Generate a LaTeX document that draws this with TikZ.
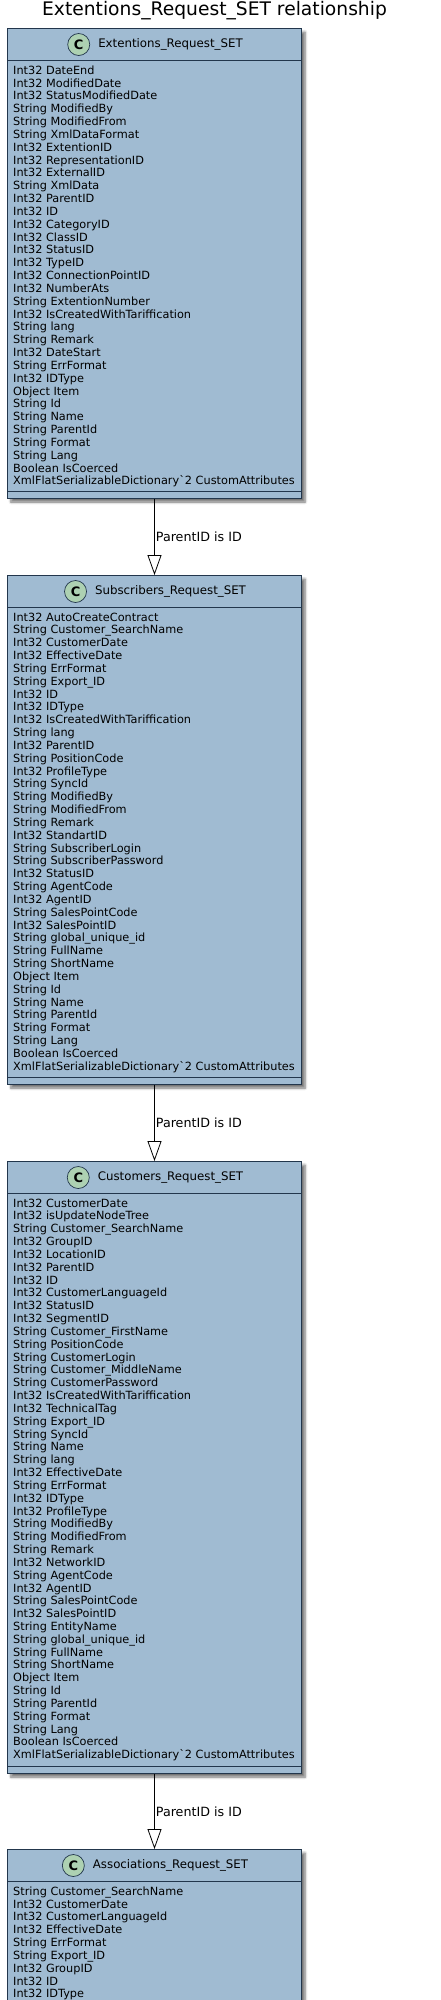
\documentclass[tikz,border=0pt]{standalone}
\usepackage{fontspec}
\newfontfamily\umlfont{DejaVu Sans}
\usetikzlibrary{positioning, shadows.blur, arrows.meta}
\definecolor{classfill}{HTML}{A0BBD2}
\definecolor{classline}{HTML}{22364C}
\definecolor{spotfill}{HTML}{ADD1B2}
\tikzset{
  classbox/.style = {draw=classline, line width=1pt, fill=classfill, minimum width=294pt, inner sep=0pt, anchor=north,
    blur shadow={shadow xshift=3.5pt, shadow yshift=-3.5pt, shadow blur radius=2.5pt, shadow blur steps=6, shadow opacity=55}},
  classname/.style = {inner sep=0pt, font=\umlfont\fontsize{11.8}{14}\selectfont},
  classspot/.style = {circle, draw=classline, line width=.7pt, fill=spotfill, minimum size=22pt, inner sep=0pt, font=\umlfont\bfseries\fontsize{13}{13}\selectfont},
  attrlist/.style = {anchor=north west, inner sep=0pt, align=left, font=\umlfont\fontsize{11.3}{12.83}\selectfont},
  sepline/.style = {classline, line width=1pt},
  inherit/.style = {line width=.8pt, -{Triangle[open, length=20pt, width=14pt]}},
  edgelabel/.style = {right, inner xsep=1pt, inner ysep=0pt, font=\umlfont\fontsize{12.7}{14}\selectfont}
}
\begin{document}
\begin{tikzpicture}[x=1pt, y=-1pt]
\useasboundingbox (0,0) rectangle (440,2000);
\clip (0,0) rectangle (440,2000);

\node[inner sep=0pt, font=\umlfont\fontsize{18.7}{20}\selectfont] (title) at (214.5,11) {Extentions\_Request\_SET relationship};

\node[classbox, minimum height=470pt] (extentions) at (154.5,28) {};
\node[classname] (extentionsname) at (170.5,44.5) {Extentions\_Request\_SET};
\node[classspot, left=8pt of extentionsname] (extentionsspot) {C};
\draw[sepline] ([yshift=-32pt]extentions.north west) -- ([yshift=-32pt]extentions.north east);
\draw[sepline] ([yshift=8pt]extentions.south west) -- ([yshift=8pt]extentions.south east);
\node[attrlist] (extentionsattrs) at (13,65.5) {Int32 DateEnd\\
Int32 ModifiedDate\\
Int32 StatusModifiedDate\\
String ModifiedBy\\
String ModifiedFrom\\
String XmlDataFormat\\
Int32 ExtentionID\\
Int32 RepresentationID\\
Int32 ExternalID\\
String XmlData\\
Int32 ParentID\\
Int32 ID\\
Int32 CategoryID\\
Int32 ClassID\\
Int32 StatusID\\
Int32 TypeID\\
Int32 ConnectionPointID\\
Int32 NumberAts\\
String ExtentionNumber\\
Int32 IsCreatedWithTariffication\\
String lang\\
String Remark\\
Int32 DateStart\\
String ErrFormat\\
Int32 IDType\\
Object Item\\
String Id\\
String Name\\
String ParentId\\
String Format\\
String Lang\\
Boolean IsCoerced\\
XmlFlatSerializableDictionary`2 CustomAttributes};

\node[classbox, minimum height=509pt] (subscribers) at (154.5,575) {};
\node[classname] (subscribersname) at (170.5,591.5) {Subscribers\_Request\_SET};
\node[classspot, left=8pt of subscribersname] (subscribersspot) {C};
\draw[sepline] ([yshift=-32pt]subscribers.north west) -- ([yshift=-32pt]subscribers.north east);
\draw[sepline] ([yshift=8pt]subscribers.south west) -- ([yshift=8pt]subscribers.south east);
\node[attrlist] (subscribersattrs) at (13,612.5) {Int32 AutoCreateContract\\
String Customer\_SearchName\\
Int32 CustomerDate\\
Int32 EffectiveDate\\
String ErrFormat\\
String Export\_ID\\
Int32 ID\\
Int32 IDType\\
Int32 IsCreatedWithTariffication\\
String lang\\
Int32 ParentID\\
String PositionCode\\
Int32 ProfileType\\
String SyncId\\
String ModifiedBy\\
String ModifiedFrom\\
String Remark\\
Int32 StandartID\\
String SubscriberLogin\\
String SubscriberPassword\\
Int32 StatusID\\
String AgentCode\\
Int32 AgentID\\
String SalesPointCode\\
Int32 SalesPointID\\
String global\_unique\_id\\
String FullName\\
String ShortName\\
Object Item\\
String Id\\
String Name\\
String ParentId\\
String Format\\
String Lang\\
Boolean IsCoerced\\
XmlFlatSerializableDictionary`2 CustomAttributes};

\node[classbox, minimum height=612pt] (customers) at (154.5,1161) {};
\node[classname] (customersname) at (170.5,1177.5) {Customers\_Request\_SET};
\node[classspot, left=8pt of customersname] (customersspot) {C};
\draw[sepline] ([yshift=-32pt]customers.north west) -- ([yshift=-32pt]customers.north east);
\draw[sepline] ([yshift=8pt]customers.south west) -- ([yshift=8pt]customers.south east);
\node[attrlist] (customersattrs) at (13,1198.5) {Int32 CustomerDate\\
Int32 isUpdateNodeTree\\
String Customer\_SearchName\\
Int32 GroupID\\
Int32 LocationID\\
Int32 ParentID\\
Int32 ID\\
Int32 CustomerLanguageId\\
Int32 StatusID\\
Int32 SegmentID\\
String Customer\_FirstName\\
String PositionCode\\
String CustomerLogin\\
String Customer\_MiddleName\\
String CustomerPassword\\
Int32 IsCreatedWithTariffication\\
Int32 TechnicalTag\\
String Export\_ID\\
String SyncId\\
String Name\\
String lang\\
Int32 EffectiveDate\\
String ErrFormat\\
Int32 IDType\\
Int32 ProfileType\\
String ModifiedBy\\
String ModifiedFrom\\
String Remark\\
Int32 NetworkID\\
String AgentCode\\
Int32 AgentID\\
String SalesPointCode\\
Int32 SalesPointID\\
String EntityName\\
String global\_unique\_id\\
String FullName\\
String ShortName\\
Object Item\\
String Id\\
String ParentId\\
String Format\\
String Lang\\
Boolean IsCoerced\\
XmlFlatSerializableDictionary`2 CustomAttributes};

\node[classbox, minimum height=200pt] (associations) at (154.5,1849) {};
\node[classname] (associationsname) at (170.5,1865.5) {Associations\_Request\_SET};
\node[classspot, left=8pt of associationsname] (associationsspot) {C};
\draw[sepline] ([yshift=-32pt]associations.north west) -- ([yshift=-32pt]associations.north east);
\node[attrlist] (associationsattrs) at (13,1886.5) {String Customer\_SearchName\\
Int32 CustomerDate\\
Int32 CustomerLanguageId\\
Int32 EffectiveDate\\
String ErrFormat\\
String Export\_ID\\
Int32 GroupID\\
Int32 ID\\
Int32 IDType};

\draw[inherit] (extentions.south) -- node[edgelabel] (extentionslabel) {ParentID is ID} (subscribers.north);
\draw[inherit] (subscribers.south) -- node[edgelabel] (subscriberslabel) {ParentID is ID} (customers.north);
\draw[inherit] (customers.south) -- node[edgelabel] (customerslabel) {ParentID is ID} (associations.north);

\end{tikzpicture}
\end{document}
